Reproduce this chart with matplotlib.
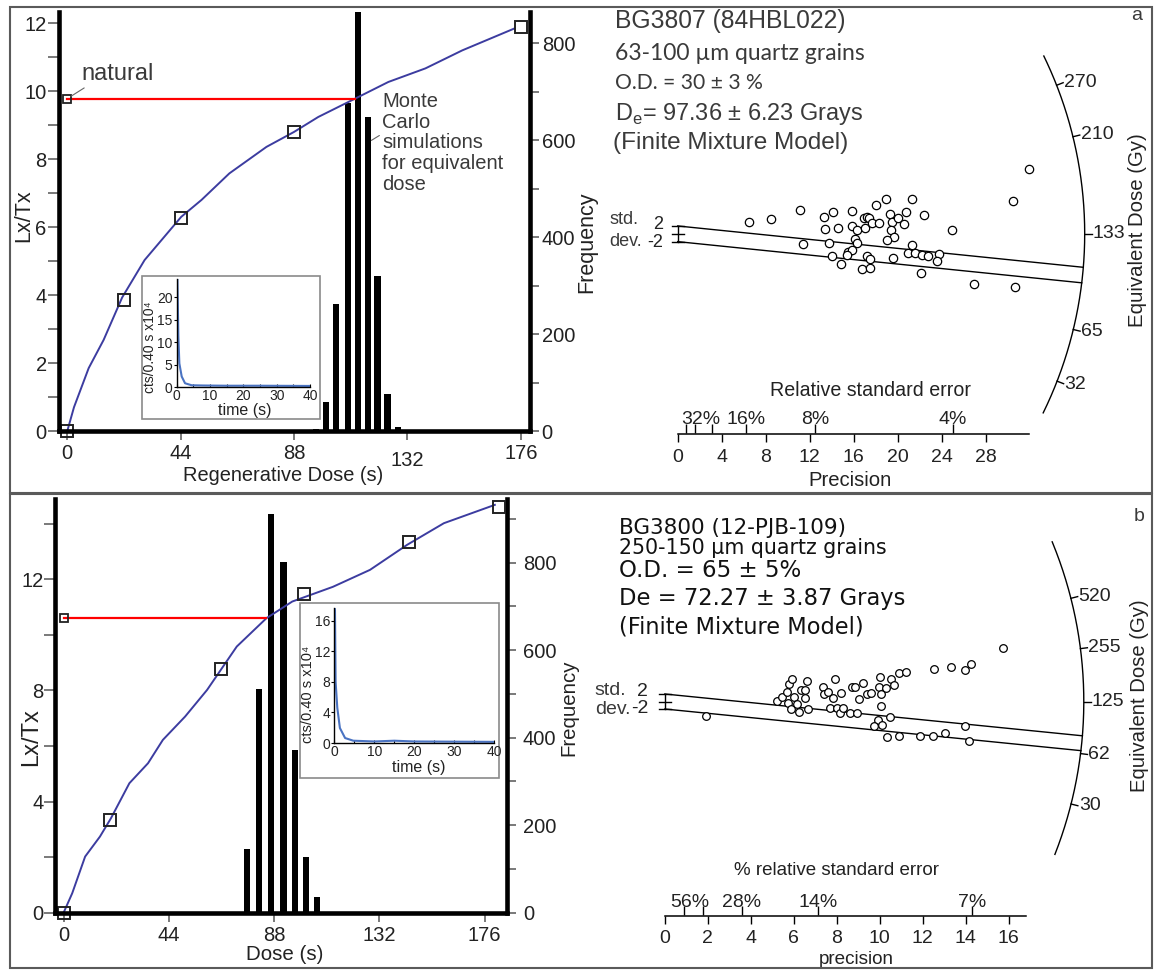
import numpy as np
import matplotlib.pyplot as plt
from matplotlib.patches import Rectangle
from matplotlib.ticker import MultipleLocator

plt.rcParams['font.family'] = ['Liberation Sans', 'DejaVu Sans']
plt.rcParams['mathtext.fontset'] = 'custom'
plt.rcParams['mathtext.rm'] = 'Liberation Sans'

W, H = 1155, 972
INK = '#222222'
GREY = '#3a3a3a'
TICK = '#555555'
CURVE = '#3c3ca0'

# ---------------- panel a : BG3807 ----------------
a_fit_dose = [0, 2.6, 8.3, 14.1, 21.3, 30, 44.2, 52.1, 62.9, 77.3, 88, 97.4, 111.7, 124.6, 139, 153.3, 173.4]
a_fit_lxtx = [0, 0.7, 1.85, 2.68, 3.93, 5.03, 6.3, 6.8, 7.58, 8.36, 8.8, 9.24, 9.78, 10.27, 10.67, 11.2, 11.84]
a_reg_dose = [0, 22, 44, 88, 176]
a_reg_lxtx = [0, 3.85, 6.26, 8.8, 11.9]
a_nat_lxtx = 9.78
a_de_dose = 111.7
a_mc_dose = [96.5, 100.3, 104.2, 108.9, 112.7, 116.6, 120.4, 124.3, 128.2, 132.1]
a_mc_freq = [5, 60, 262, 676, 890, 648, 320, 76, 8, 2]
a_osl_time = [0, 0.2, 0.5, 0.8, 1.5, 2.5, 4.5, 8, 15, 25, 40]
a_osl_cts = [26, 24.5, 11.3, 5.3, 2.4, 0.9, 0.45, 0.4, 0.35, 0.35, 0.3]

a_prec = [6.52, 8.48, 11.15, 11.39, 13.27, 13.42, 13.73, 14.15, 14.55, 14.06, 14.85, 15.88, 15.82, 16.3,
          16.15, 16.3, 15.52, 15.82, 15.36, 16.94, 17.18, 17.36, 17.03, 17.67, 18.27, 17.24, 17.52, 16.79,
          17.48, 18.03, 18.91, 19.33, 19.48, 19.36, 19.7, 19.03, 19.61, 20.06, 20.58, 20.73, 21.3, 22.42,
          21.33, 20.91, 21.58, 22.18, 22.76, 23.76, 23.58, 22.15, 24.91, 26.91, 30.52, 30.7, 31.94]
a_zstd = [2.93, 3.86, 5.99, -2.5, 4.37, 1.34, -2.33, 5.48, 1.48, -5.66, -7.61, 5.9, 1.99, 0.88,
          -1.25, -2.43, -4.57, -4.15, -5.42, 4.03, 4.37, 3.94, 1.39, 2.67, 2.76, -5.66, -6.43, -9.06,
          -8.81, 7.33, 8.78, 5.05, 3.1, 0.97, -0.82, -1.67, -6.24, 4.03, 2.41, 5.56, 8.78, 4.8,
          -2.76, -4.97, -4.97, -5.39, -5.66, -5.15, -6.93, -10.0, 1.06, -12.81, 8.36, -13.65, 16.61]
a_central_slope = -0.286
a_arc_labels = ['270', '210', '133', '65', '32']
a_arc_slopes = [1.100, 0.689, 0.0, -0.679, -1.090]
a_rse = [128, 64, 32, 16, 8, 4]
a_rse_labels = ['', '', '32%', '16%', '8%', '4%']

# ---------------- panel b : BG3800 ----------------
b_fit_dose = [0, 3.6, 9.0, 15.2, 19.8, 27.5, 35.3, 41.5, 50.8, 60.0, 72.4, 84.8, 95.6, 112.6, 128.1, 143.6, 159, 180.3]
b_fit_lxtx = [0, 0.7, 2.02, 2.74, 3.4, 4.66, 5.38, 6.22, 7.06, 8.02, 9.58, 10.6, 11.2, 11.73, 12.34, 13.24, 14.02, 14.68]
b_reg_dose = [0, 19.5, 65.6, 100.7, 144.3, 182.2]
b_reg_lxtx = [0, 3.34, 8.77, 11.46, 13.33, 14.62]
b_nat_lxtx = 10.6
b_de_dose = 84.8
b_mc_dose = [76.7, 81.8, 86.8, 91.9, 96.7, 101.4, 106.1]
b_mc_freq = [145, 511, 911, 802, 372, 127, 35]
b_osl_time = [0, 0.17, 0.33, 0.75, 1.4, 2.7, 4.75, 10, 15, 20, 40]
b_osl_cts = [18, 17.4, 8.0, 4.6, 1.96, 0.65, 0.3, 0.2, 0.3, 0.2, 0.15]

b_prec = [1.94, 5.24, 5.46, 5.7, 5.8, 5.94, 5.75, 5.87, 6.01, 6.15, 6.25, 6.32, 6.52, 6.52, 6.63,
          6.66, 7.35, 7.43, 7.59, 7.81, 7.93, 8.2, 7.71, 8.03, 8.17, 8.29, 8.64, 8.96, 8.72, 8.84,
          9.24, 9.05, 9.41, 9.58, 10.01, 9.96, 10.3, 10.06, 10.52, 10.66, 10.9, 11.23, 10.04, 9.92,
          10.47, 9.75, 10.09, 10.33, 10.9, 11.88, 12.48, 13.05, 12.53, 13.3, 13.96, 14.25, 13.99,
          14.16, 15.74]
b_zstd = [-3.78, 0.22, 1.29, 2.44, 4.58, 6.0, -0.49, -2.0, 1.11, -0.67, -2.71, 3.07, 3.07, 0.84, 5.47,
          -2.0, 3.78, 2.0, 2.44, 0.84, 6.0, 2.18, -1.64, -1.82, -2.98, -1.82, -2.98, -2.98, 3.96, 3.78,
          4.84, 0.67, 2.0, 2.18, 6.62, 3.96, 3.51, 2.0, 5.91, 4.49, 7.69, 7.87, -1.2, -4.93,
          -4.22, -6.44, -6.36, -9.38, -9.2, -9.2, -9.11, -8.49, 8.67, 9.11, 8.4, 10.09, -6.44,
          -10.62, 14.36]
b_central_slope = -0.5735
b_arc_labels = ['520', '255', '125', '62', '30']
b_arc_slopes = [1.456, 0.729, 0.0, -0.718, -1.446]
b_rse = [112, 56, 28, 14, 7]
b_rse_labels = ['', '56%', '28%', '14%', '7%']


fig = plt.figure(figsize=(W / 100, H / 100), dpi=100)
renderer = fig.canvas.get_renderer()


def box(left, top, right, bottom):
    return [left / W, 1 - bottom / H, (right - left) / W, (bottom - top) / H]


def ftext(x, y, s, width=None, **kw):
    t = fig.text(x / W, 1 - y / H, s, **kw)
    if width:
        w = t.get_window_extent(renderer).width
        t.set_fontsize(t.get_fontsize() * width / w)
    return t


def rect(x0, y0, x1, y1, **kw):
    r = Rectangle((x0 / W, 1 - y1 / H), (x1 - x0) / W, (y1 - y0) / H, transform=fig.transFigure, **kw)
    fig.add_artist(r)
    return r


def growth_panel(px, xlim, ylim, ystep, fmax, fit_x, fit_y, reg_x, reg_y, nat, de, mc_x, mc_f, bar_w):
    ax = fig.add_axes(box(*px))
    axf = ax.twinx()
    axf.set_zorder(1)
    ax.set_zorder(2)
    ax.patch.set_visible(False)

    axf.bar(mc_x, mc_f, width=bar_w, color='black')
    axf.set_ylim(0, fmax)

    ax.plot(fit_x, fit_y, color=CURVE, lw=1.4)
    ax.plot([0, de], [nat, nat], color='red', lw=1.6)
    ax.plot(reg_x, reg_y, 's', ms=8.5, mfc='none', mec='#222222', mew=1.4, clip_on=False)
    ax.plot([0], [nat], 's', ms=5.5, mfc='none', mec='#222222', mew=1.3, clip_on=False)
    ax.set_xlim(*xlim)
    ax.set_ylim(*ylim)
    ax.set_xticks([0, 44, 88, 132, 176])
    ax.yaxis.set_major_locator(MultipleLocator(ystep))
    ax.yaxis.set_minor_locator(MultipleLocator(ystep / 2))
    axf.yaxis.set_major_locator(MultipleLocator(200))
    axf.yaxis.set_minor_locator(MultipleLocator(100))

    for a in (ax, axf):
        for s in a.spines.values():
            s.set_visible(False)
    for s in (ax.spines['left'], ax.spines['bottom'], axf.spines['right']):
        s.set_visible(True)
        s.set_linewidth(3.3)
        s.set_capstyle('projecting')

    ax.tick_params(axis='y', which='both', length=8, width=1.1, color=TICK,
                   labelsize=14.5, labelcolor=INK, pad=1)
    ax.tick_params(axis='x', length=6.5, width=1.1, color=TICK, labelsize=14.5, labelcolor=INK, pad=3)
    axf.tick_params(axis='y', which='both', length=6.6, width=1.1, color=TICK,
                    labelsize=14.5, labelcolor=INK, pad=2)
    return ax, axf


def decay_inset(frame_px, px, ymax, ystep, t, c):
    rect(*frame_px, facecolor='white', edgecolor='#8a8a8a', lw=1.2, zorder=3)
    ax = fig.add_axes(box(*px))
    ax.set_zorder(4)
    ax.patch.set_visible(False)
    ax.plot(t, c, color='#4a73c2', lw=1.5)
    ax.set_xlim(0, 40)
    ax.set_ylim(0, ymax)
    ax.spines['top'].set_visible(False)
    ax.spines['right'].set_visible(False)
    ax.spines['left'].set_linewidth(1)
    ax.spines['bottom'].set_linewidth(1)
    ax.xaxis.set_major_locator(MultipleLocator(10))
    ax.xaxis.set_minor_locator(MultipleLocator(5))
    ax.yaxis.set_major_locator(MultipleLocator(ystep))
    ax.tick_params(axis='x', which='both', direction='in', length=2.5, width=0.8,
                   labelsize=10, labelcolor=INK, pad=1.5)
    ax.tick_params(axis='y', direction='out', length=2, width=0.8, labelsize=10, labelcolor=INK, pad=1)
    return ax


def radial(ox, oy, xs, ys, r, phi, prec, zstd, slope, arc_labels, arc_slopes, ms):
    left, right, top, bottom = ox - 80, ox + 480, oy - 230, oy + 220
    ax = fig.add_axes(box(left, top, right, bottom))
    ax.set_xlim((left - ox) / xs, (right - ox) / xs)
    ax.set_ylim((oy - bottom) / ys, (oy - top) / ys)
    ax.axis('off')

    t = np.radians(np.linspace(phi[0], phi[1], 200))
    ax.plot(r * np.cos(t) / xs, r * np.sin(t) / ys, color='black', lw=1)
    for lab, s in zip(arc_labels, arc_slopes):
        d = np.array([xs, s * ys])
        d = d / np.hypot(*d)
        ax.plot([r * d[0] / xs, (r + 7) * d[0] / xs], [r * d[1] / ys, (r + 7) * d[1] / ys],
                color='black', lw=1)
        ax.text((r + 8) * d[0] / xs, (r + 8) * d[1] / ys, lab, ha='left', va='center',
                fontsize=14, color=INK)

    for b in (2, -2):
        qa = xs ** 2 + (ys * slope) ** 2
        qb = 2 * ys ** 2 * slope * b
        qc = (ys * b) ** 2 - r ** 2
        x1 = (-qb + np.sqrt(qb * qb - 4 * qa * qc)) / (2 * qa)
        ax.plot([0, x1], [b, slope * x1 + b], color='black', lw=1)

    ax.plot([0, 0], [-2, 2], color='black', lw=1)
    for yy in (-2, 0, 2):
        ax.plot([-6 / xs, 6 / xs], [yy, yy], color='black', lw=1)

    ax.plot(prec, zstd, 'o', ms=ms, mfc='white', mec='black', mew=0.9)
    return ax


def precision_axis(ox, line_y, xs, xmax, step, rse, rse_labels, first_shift, lab_rise):
    pax = fig.add_axes(box(ox, line_y - 1, ox + xmax * xs, line_y))
    pax.set_xlim(0, xmax)
    pax.set_yticks([])
    pax.patch.set_visible(False)
    for s in ('top', 'left', 'right'):
        pax.spines[s].set_visible(False)
    pax.spines['bottom'].set_linewidth(1.1)
    pax.set_xticks(np.arange(0, xmax, step))
    pax.tick_params(axis='x', length=5.5, width=1, labelsize=14, labelcolor=INK, pad=5)

    top = pax.secondary_xaxis('top', functions=(lambda v: v, lambda v: v))
    top.spines['top'].set_visible(False)
    pos = [100 / p for p in rse]
    top.set_xticks(pos, labels=[''] * len(pos))
    top.tick_params(axis='x', length=6.5, width=1)
    shown = [i for i, lab in enumerate(rse_labels) if lab]
    for i in shown:
        dx = first_shift if i == shown[0] else 0
        pax.annotate(rse_labels[i], xy=(pos[i], 1), xycoords=('data', 'axes fraction'),
                     xytext=(dx, lab_rise), textcoords='offset points', ha='center',
                     va='baseline', fontsize=14, color=INK)
    return pax


# ---------- panel frames
rect(10, 7, 1152, 493, fill=False, edgecolor='#5a5a5a', lw=1.5, zorder=10)
rect(10, 494, 1152, 968, fill=False, edgecolor='#5a5a5a', lw=1.5, zorder=10)

# ---------- panel a, left
ax_a, axf_a = growth_panel((59.2, 12.3, 529.8, 431), (-3.14, 179.5), (0, 12.32), 2, 864,
                           a_fit_dose, a_fit_lxtx, a_reg_dose, a_reg_lxtx, a_nat_lxtx, a_de_dose,
                           a_mc_dose, a_mc_freq, 2.4)
ax_a.xaxis.get_major_ticks()[3].set_pad(8)
ax_a.annotate('natural', xy=(0, a_nat_lxtx), xytext=(5.4, 10.5), textcoords='data',
              fontsize=17, color=GREY, va='center', ha='left',
              arrowprops=dict(arrowstyle='-', color='#666666', lw=0.8, shrinkA=0, shrinkB=3,
                              relpos=(0.15, 0.1)))
ax_a.annotate('Monte\nCarlo\nsimulations\nfor equivalent\ndose', xy=(118, 8.55), xytext=(122.2, 9.98),
              textcoords='data', fontsize=14.5, color=GREY, va='top', ha='left', linespacing=1.12,
              arrowprops=dict(arrowstyle='-', color='#666666', lw=0.8, shrinkA=0, shrinkB=0,
                              relpos=(0.07, 0.64)))
ftext(24, 216, 'Lx/Tx', fontsize=15.5, rotation=90, ha='center', va='center', color=INK)
ftext(283, 475, 'Regenerative Dose (s)', fontsize=14.4, ha='center', va='center', color=INK)
ftext(587, 242, 'Frequency', fontsize=15.5, rotation=90, ha='center', va='center', color=INK)

decay_inset((142.3, 276, 320, 419), (176.7, 279.3, 310, 387.3), 24, 5, a_osl_time, a_osl_cts)
ftext(245, 410, 'time (s)', fontsize=11.5, ha='center', va='center', color=INK, zorder=5)
ftext(150.5, 347.5, 'cts/0.40 s x10⁴', fontsize=10, rotation=90, ha='center', va='center',
      color=INK, zorder=5)

# ---------- panel a, right
radial(677.7, 233.8, 11.0, 3.92, 407, (-26.1, 25.9), a_prec, a_zstd, a_central_slope,
       a_arc_labels, a_arc_slopes, 6)
precision_axis(677.7, 434, 11.0, 31.9, 4, a_rse, a_rse_labels, -8, 6.5)
ftext(871, 391, 'Relative standard error', fontsize=14.1, ha='center', va='center', color=INK)
ftext(850, 480, 'Precision', fontsize=14.6, ha='center', va='center', color=INK)
ftext(1137.5, 230, 'Equivalent Dose (Gy)', fontsize=14.7, rotation=90, ha='center', va='center', color=INK)
ftext(609.5, 220, 'std.', fontsize=13, ha='left', va='center', color=GREY)
ftext(609.5, 241.5, 'dev.', fontsize=13, ha='left', va='center', color=GREY)
ftext(663, 224, '2', fontsize=13, ha='right', va='center', color=INK)
ftext(663, 242, '-2', fontsize=13, ha='right', va='center', color=INK)

ftext(615, 28.3, 'BG3807 (84HBL022)', width=228.7, fontsize=16.5, va='baseline', color=GREY)
ftext(615, 60, '63-100 µm quartz grains', width=251, fontsize=16, va='baseline', color=GREY,
      family=['Lato', 'DejaVu Sans'])
ftext(615, 89.3, 'O.D. = 30 ± 3 %', width=149, fontsize=14, va='baseline', color=GREY,
      family=['Lato', 'DejaVu Sans'])
ftext(615, 120, r'D$_\mathregular{e}$= 97.36 ± 6.23 Grays', width=249, fontsize=16, va='baseline', color=GREY)
ftext(613, 149, '(Finite Mixture Model)', width=236, fontsize=16.3, va='baseline', color=GREY)
ftext(1131.5, 19.7, 'a', fontsize=14, va='baseline', color=GREY)

# ---------- panel b, left
ax_b, axf_b = growth_panel((54.8, 499.3, 506.8, 912.7), (-3.68, 185.3), (0, 14.88), 4, 945,
                           b_fit_dose, b_fit_lxtx, b_reg_dose, b_reg_lxtx, b_nat_lxtx, b_de_dose,
                           b_mc_dose, b_mc_freq, 2.6)
axf_b.tick_params(axis='y', pad=5)
ax_b.tick_params(axis='y', pad=0)
ftext(31.4, 736.7, 'Lx/Tx', fontsize=17, rotation=90, ha='center', va='center', color=INK)
ftext(285, 954, 'Dose (s)', fontsize=14.8, ha='center', va='center', color=INK)
ftext(569, 708, 'Frequency', fontsize=14.7, rotation=90, ha='center', va='center', color=INK)

decay_inset((300, 603, 499, 778), (334.3, 608, 494.3, 743), 17.67, 4, b_osl_time, b_osl_cts)
ftext(419, 767, 'time (s)', fontsize=11.5, ha='center', va='center', color=INK, zorder=5)
ftext(307.5, 694.7, 'cts/0.40 s x10⁴', fontsize=10.5, rotation=90, ha='center', va='center',
      color=INK, zorder=5)

# ---------- panel b, right
radial(664.8, 701.5, 21.49, 3.75, 419, (-21.4, 22.4), b_prec, b_zstd, b_central_slope,
       b_arc_labels, b_arc_slopes, 5.5)
precision_axis(664.8, 915.7, 21.49, 16.81, 2, b_rse, b_rse_labels, -9.6, 5.3)
ftext(836, 870, '% relative standard error', fontsize=13.5, ha='center', va='center', color=INK)
ftext(856, 959, 'precision', fontsize=13.6, ha='center', va='center', color=INK)
ftext(1139.7, 696, 'Equivalent Dose (Gy)', fontsize=14.6, rotation=90, ha='center', va='center', color=INK)
ftext(594.8, 690, 'std.', fontsize=14, ha='left', va='center', color=GREY)
ftext(594.8, 710, 'dev.', fontsize=14, ha='left', va='center', color=GREY)
ftext(648, 691.7, '2', fontsize=14, ha='right', va='center', color=INK)
ftext(648, 708.3, '-2', fontsize=14, ha='right', va='center', color=INK)

dv = ['DejaVu Sans']
ftext(618.7, 534, 'BG3800 (12-PJB-109)', width=226.9, fontsize=15, va='baseline', color='#111111', family=dv)
ftext(618.7, 554, '250-150 µm quartz grains', width=267.4, fontsize=15, va='baseline', color='#111111', family=dv)
ftext(618.7, 577.3, 'O.D. = 65 ± 5%', width=182.6, fontsize=16, va='baseline', color='#111111', family=dv)
ftext(618.7, 605, 'De = 72.27 ± 3.87 Grays', width=285.9, fontsize=16, va='baseline', color='#111111', family=dv)
ftext(618.7, 633.3, '(Finite Mixture Model)', width=245.3, fontsize=16, va='baseline', color='#111111', family=dv)
ftext(1133.3, 521, 'b', fontsize=14, va='baseline', color=GREY)

fig.savefig('out.png', dpi=100)
